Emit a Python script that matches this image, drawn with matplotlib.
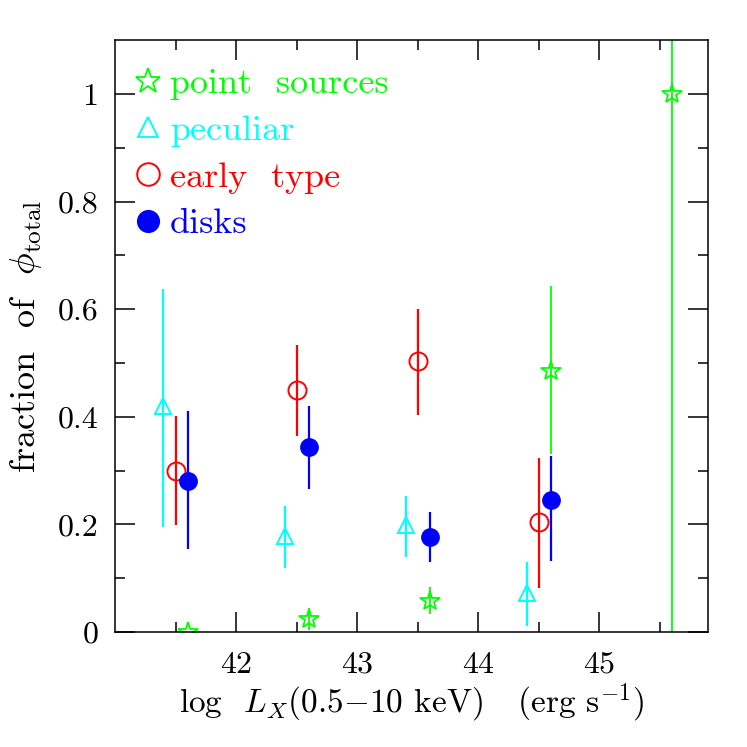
import matplotlib
matplotlib.use("Agg")
import matplotlib.pyplot as plt
from matplotlib.lines import Line2D

plt.rcParams["font.family"] = "cmr10"
plt.rcParams["mathtext.fontset"] = "cm"
plt.rcParams["axes.formatter.use_mathtext"] = True

# --- data (log Lx bin centres, fraction of phi_total, asymmetric errors) ---
x_disks = [41.6, 42.6, 43.6, 44.6]
y_disks = [0.281, 0.343, 0.177, 0.246]
lo_disks = [0.127, 0.077, 0.047, 0.114]
hi_disks = [0.129, 0.077, 0.046, 0.082]

x_early = [41.5, 42.5, 43.5, 44.5]
y_early = [0.300, 0.450, 0.503, 0.204]
lo_early = [0.101, 0.086, 0.099, 0.122]
hi_early = [0.102, 0.084, 0.098, 0.120]

x_pec = [41.4, 42.4, 43.4, 44.4]
y_pec = [0.420, 0.179, 0.199, 0.073]
lo_pec = [0.225, 0.060, 0.059, 0.062]
hi_pec = [0.217, 0.056, 0.054, 0.057]

x_ps = [41.6, 42.6, 43.6, 44.6, 45.6]
y_ps = [0.000, 0.024, 0.058, 0.485, 1.000]
lo_ps = [0.000, 0.020, 0.024, 0.155, 1.000]
hi_ps = [0.000, 0.020, 0.025, 0.158, 1.000]

labels = ["point  sources", "peculiar", "early  type", "disks"]

GREEN, CYAN, RED, BLUE = "#00ff00", "#00ffff", "#ff0000", "#0000ff"

fig = plt.figure(figsize=(7.47, 7.47), dpi=100)
ax = fig.add_axes([0.154, 0.154, 0.794, 0.792])

ms = 12
ax.errorbar(x_ps, y_ps, yerr=[lo_ps, hi_ps], fmt="*", ms=ms + 3, mfc="none",
            mec=GREEN, mew=1.3, color=GREEN, elinewidth=1.3, capsize=0,
            zorder=2)
ax.errorbar(x_pec, y_pec, yerr=[lo_pec, hi_pec], fmt="^", ms=ms, mfc="none",
            mec=CYAN, mew=1.4, color=CYAN, elinewidth=1.6, capsize=0, zorder=3)
ax.errorbar(x_early, y_early, yerr=[lo_early, hi_early], fmt="o", ms=ms + 1,
            mfc="none", mec=RED, mew=1.4, color=RED, elinewidth=1.6,
            capsize=0, zorder=3)
ax.errorbar(x_disks, y_disks, yerr=[lo_disks, hi_disks], fmt="o", ms=ms + 0.5,
            mfc=BLUE, mec=BLUE, color=BLUE, elinewidth=1.6, capsize=0,
            zorder=4)

ax.set_xlim(41.0, 45.9)
ax.set_ylim(0, 1.1)
ax.set_xticks([42, 43, 44, 45])
ax.set_xticks([41.5, 42.5, 43.5, 44.5, 45.5], minor=True)
ax.set_yticks([0, 0.2, 0.4, 0.6, 0.8, 1.0])
ax.set_yticklabels(["0", "0.2", "0.4", "0.6", "0.8", "1"])
ax.set_yticks([0.1, 0.3, 0.5, 0.7, 0.9], minor=True)
ax.tick_params(which="both", direction="in", top=True, right=True,
               labelsize=23, width=1.1)
ax.tick_params(which="major", length=14.4)
ax.tick_params(which="minor", length=7.2)
ax.tick_params(axis="x", pad=14)
ax.tick_params(axis="y", pad=12)
for sp in ax.spines.values():
    sp.set_linewidth(1.1)

ax.set_xlabel(r"log  $L_X$(0.5$-$10 keV)   (erg s$^{-1}$)", fontsize=24,
              labelpad=2)
ax.set_ylabel(r"fraction  of  $\phi_{\rm total}$", fontsize=26, labelpad=10)

handles = [
    Line2D([], [], ls="none", marker="*", ms=ms + 3, mfc="none", mec=GREEN, mew=1.3),
    Line2D([], [], ls="none", marker="^", ms=ms, mfc="none", mec=CYAN, mew=1.4),
    Line2D([], [], ls="none", marker="o", ms=ms + 1, mfc="none", mec=RED, mew=1.4),
    Line2D([], [], ls="none", marker="o", ms=ms + 0.5, mfc=BLUE, mec=BLUE),
]
ax.legend(handles, labels, loc="upper left", bbox_to_anchor=(-0.005, 0.99),
          frameon=False, fontsize=26, handlelength=0.8, handletextpad=0.2,
          labelspacing=0.4, labelcolor=[GREEN, CYAN, RED, BLUE],
          borderaxespad=0.2, markerscale=1.25)

fig.savefig("out.png", dpi=100)
